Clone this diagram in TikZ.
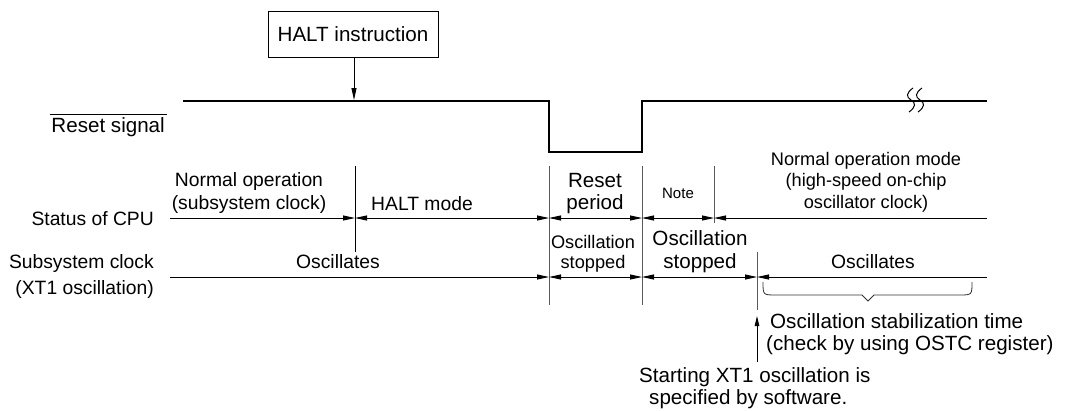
\documentclass[tikz,border=0pt]{standalone}
\usepackage{fontspec}
\setmainfont{Liberation Sans}
\usetikzlibrary{arrows.meta}
\tikzset{
  thinline/.style={line width=0.9pt, draw=black},
  vline/.style={line width=1pt, draw=black!65},
  dimtip/.style={line width=0.9pt, draw=black, {Triangle[length=12pt,width=5pt]}-{Triangle[length=12pt,width=5pt]}},
  dimend/.style={line width=0.9pt, draw=black, -{Triangle[length=12pt,width=5pt]}},
  dimstart/.style={line width=0.9pt, draw=black, {Triangle[length=12pt,width=5pt]}-},
  lbl/.style={inner sep=0pt, font=\fontsize{19.3}{23}\selectfont},
  lblb/.style={inner sep=0pt, font=\fontsize{20.6}{24}\selectfont},
  lblm/.style={inner sep=0pt, font=\fontsize{18.2}{21.5}\selectfont},
  lbls/.style={inner sep=0pt, font=\fontsize{15}{18}\selectfont},
  signal/.style={line width=1.8pt, draw=black},
}
\begin{document}
\begin{tikzpicture}[x=1pt,y=-1pt]
\useasboundingbox (0,0) rectangle (1066,410);

% HALT instruction box
\node[draw, line width=1pt, minimum width=170pt, minimum height=46pt, inner sep=0pt, font=\fontsize{20.6}{24}\selectfont] (halt) at (353,34) {HALT instruction};
\coordinate (haltT) at (354,100);
\draw[line width=0.9pt, -{Triangle[length=12pt,width=5pt]}] (halt.south -| haltT) -- (haltT);

% reset signal
\coordinate (r0) at (183,101);
\coordinate (r1) at (549,101);
\coordinate (r2) at (549,152);
\coordinate (r3) at (642,152);
\coordinate (r4) at (642,101);
\coordinate (r5) at (987,101);
\draw[signal] (r0) -- (r1) -- (r2) -- (r3) -- (r4) -- (r5);
% break mark
\foreach \bx in {911,920} {
  \draw[line width=1pt] (\bx+2,88) .. controls (\bx-5,93) and (\bx-5,97) .. (\bx,100)
     .. controls (\bx+5,103) and (\bx+5,107) .. (\bx-2,112);
}

% left labels
\node[lblb, anchor=base east] (lreset) at (165,132) {Reset signal};
\draw[line width=1pt] ([xshift=-1.5pt,yshift=2.5pt]lreset.north west) -- ([xshift=1.5pt,yshift=2.5pt]lreset.north east);
\node[lbl, anchor=base east] (lcpu) at (154,225) {Status of CPU};
\node[lbl, anchor=base east] (lsub1) at (154,268) {Subsystem clock};
\node[lbl, anchor=base east] (lsub2) at (154,294) {(XT1 oscillation)};

% vertical lines
\coordinate (v1t) at (355,166); \coordinate (v1b) at (355,252);
\coordinate (v2t) at (549,166); \coordinate (v2b) at (549,305);
\coordinate (v3t) at (642,166); \coordinate (v3b) at (642,305);
\coordinate (v4t) at (714,166); \coordinate (v4b) at (714,223);
\coordinate (v5t) at (757,252); \coordinate (v5b) at (757,310);
\draw[line width=0.9pt] (v1t) -- (v1b);
\draw[vline] (v2t) -- (v2b);
\draw[vline] (v3t) -- (v3b);
\draw[vline] (v4t) -- (v4b);
\draw[vline] (v5t) -- (v5b);

% CPU status line
\coordinate (c0) at (170,218);
\coordinate (c1) at (355,218);
\coordinate (c2) at (549,218);
\coordinate (c3) at (642,218);
\coordinate (c4) at (714,218);
\coordinate (c5) at (987,218);
\draw[dimend] (c0) -- (c1);
\draw[dimtip] (c1) -- (c2);
\draw[dimtip] (c2) -- (c3);
\draw[dimtip] (c3) -- (c4);
\draw[dimstart] (c4) -- (c5);

% subsystem clock line
\coordinate (s0) at (170,277);
\coordinate (s2) at (549,277);
\coordinate (s3) at (642,277);
\coordinate (s4) at (757,277);
\coordinate (s5) at (987,277);
\draw[dimend] (s0) -- (s2);
\draw[dimtip] (s2) -- (s3);
\draw[dimtip] (s3) -- (s4);
\draw[dimstart] (s4) -- (s5);

% CPU labels
\node[lbl, anchor=base] (no1) at (249,186) {Normal operation};
\node[lbl, anchor=base] (no2) at (249,209) {(subsystem clock)};
\node[lbl, anchor=base] (hm) at (422,210) {HALT mode};
\node[lblb, anchor=base] (rp1) at (595,187) {Reset};
\node[lblb, anchor=base] (rp2) at (595,209) {period};
\node[lbls, anchor=base] (note) at (678,198) {Note};
\node[lblm, anchor=base] (nm1) at (866,165) {Normal operation mode};
\node[lblm, anchor=base] (nm2) at (866,186) {(high-speed on-chip};
\node[lblm, anchor=base] (nm3) at (866,208) {oscillator clock)};

% subsystem labels
\node[lbl, anchor=base] (osc1) at (338,268) {Oscillates};
\node[lblm, anchor=base] (os1a) at (593,248) {Oscillation};
\node[lblm, anchor=base] (os1b) at (593,268) {stopped};
\node[lblb, anchor=base] (os2a) at (700,245) {Oscillation};
\node[lblb, anchor=base] (os2b) at (700,268) {stopped};
\node[lbl, anchor=base] (osc2) at (873,268) {Oscillates};

% brace
\coordinate (b0) at (763,282);
\coordinate (b1) at (972,282);
\coordinate (btip) at (868,301);
\draw[line width=0.8pt, draw=black!80] (b0) .. controls (763,295) .. (776,295) -- (862,295) -- (btip)
   -- (874,295) -- (959,295) .. controls (972,295) .. (b1);

\node[lblb, anchor=base west] (st1) at (770,328) {Oscillation stabilization time};
\node[lblb, anchor=base west] (st2) at (766,350) {(check by using OSTC register)};

% software start
\node[lblb, anchor=base west] (sw1) at (639,382) {Starting XT1 oscillation is};
\node[lblb, anchor=base west] (sw2) at (649,404) {specified by software.};
\coordinate (swb) at (757,362);
\coordinate (swt) at (757,316);
\draw[line width=0.9pt, -{Triangle[length=10pt,width=4.5pt]}] (swb) -- (swt);
\end{tikzpicture}
\end{document}
